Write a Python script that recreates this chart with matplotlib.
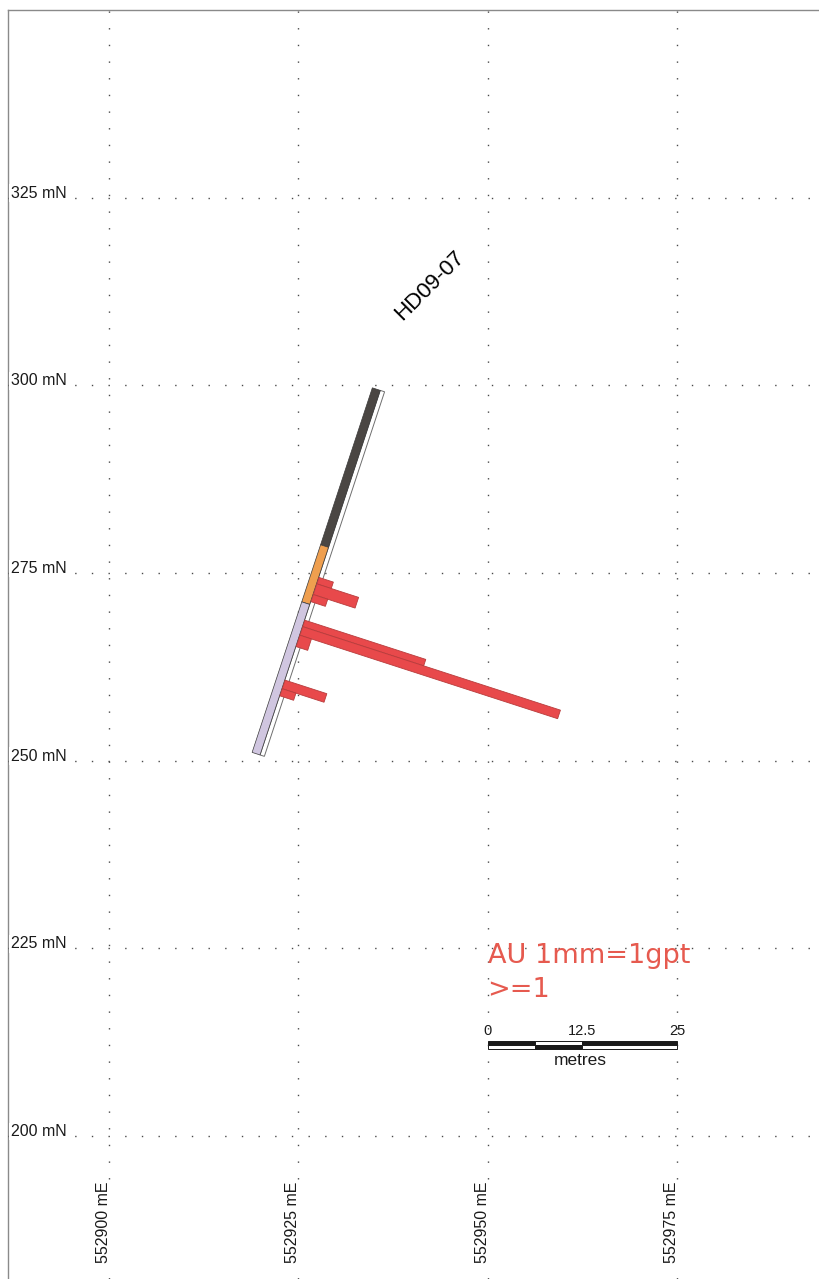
import numpy as np
import matplotlib
matplotlib.use("Agg")
import matplotlib.pyplot as plt
from matplotlib.patches import Polygon, Rectangle

plt.rcParams['font.family'] = ['Liberation Sans', 'DejaVu Sans']

# ---------------- data ----------------
east_ticks = [552900, 552925, 552950, 552975]
east_labels = ['552900 mE', '552925 mE', '552950 mE', '552975 mE']
north_ticks = [200, 225, 250, 275, 300, 325]
north_labels = ['200 mN', '225 mN', '250 mN', '275 mN', '300 mN', '325 mN']

hole_id = 'HD09-07'
collar_e = 552935.3
collar_n = 299.5
hole_azimuth = 198.1     # degrees from north
hole_length = 51.1       # metres (plan)

lith_from = [0.0, 22.0, 30.0]
lith_to = [22.0, 30.0, 51.1]
lith_colors = ['#4a4643', '#ef9f4f', '#d0c6e0']

au_from = [26.2, 27.1, 28.6, 32.2, 33.1, 34.3, 40.6, 41.8]
au_to = [27.1, 28.6, 29.6, 33.1, 34.3, 35.9, 41.8, 42.8]
au_gpt = [2.0, 5.8, 2.0, 16.8, 35.8, 1.6, 5.8, 1.9]

scale_ticks = [0, 12.5, 25]
scale_labels = ['0', '12.5', '25']
scale_breaks = [0, 6.25, 12.5, 25]
scale_top_colors = ['#1a1a1a', 'white', '#1a1a1a']
scale_bot_colors = ['white', '#1a1a1a', 'white']
legend_title = 'AU 1mm=1gpt'
legend_sub = '>=1'
scale_unit = 'metres'

# ---------------- figure ----------------
W, H = 820, 1279
fig = plt.figure(figsize=(W / 100, H / 100), dpi=100)
ax = fig.add_axes([0, 0, 1, 1])
ax.set_xlim(552885.61, 552993.89)
ax.set_ylim(180.94, 351.34)
ax.axis('off')

# frame lines (left and top)
fx = 8 / W
fy = 1 - 10 / H
ax.plot([fx, fx], [0, fy], transform=ax.transAxes, color='#8a8a8a', lw=1.0, zorder=1)
ax.plot([fx, 1], [fy, fy], transform=ax.transAxes, color='#8a8a8a', lw=1.0, zorder=1)

# dotted grid
dot = (0, (1, 11))
for e in east_ticks:
    ax.axvline(e, ymin=0, ymax=fy, color='#4a4a4a', lw=1.0, ls=dot, zorder=1)
for n in north_ticks:
    ax.axhline(n, xmin=fx, xmax=1, color='#4a4a4a', lw=1.0, ls=dot, zorder=1)

bb = dict(facecolor='white', edgecolor='none', pad=1.0)
for n, lab in zip(north_ticks, north_labels):
    ax.text(552887.0, n, lab, ha='left', va='baseline', fontsize=11.5,
            color='#1a1a1a', bbox=bb, zorder=2)
for e, lab in zip(east_ticks, east_labels):
    ax.text(e + 0.25, 188.5, lab, ha='right', va='center', rotation=90,
            fontsize=11.5, color='#1a1a1a', bbox=bb, zorder=2)

# ---------------- drill hole ----------------
az = np.radians(hole_azimuth)
u = np.array([np.sin(az), np.cos(az)])
p = np.array([-u[1], u[0]])
c = np.array([collar_e, collar_n])


def pt(s, w):
    return c + s * u + w * p


def strip(s0, s1, w0, w1):
    return [pt(s0, w0), pt(s1, w0), pt(s1, w1), pt(s0, w1)]


ax.add_patch(Polygon(strip(0, hole_length, 0.55, 1.15), closed=True,
                     facecolor='white', edgecolor='#6e6e6e', lw=0.7, zorder=3))
for f, t, col in zip(lith_from, lith_to, lith_colors):
    ax.add_patch(Polygon(strip(f, t, -0.55, 0.55), closed=True,
                         facecolor=col, edgecolor='#3a3a3a', lw=0.5, zorder=4))
for f, t, g in zip(au_from, au_to, au_gpt):
    ax.add_patch(Polygon(strip(f, t, 0.6, 0.6 + g), closed=True,
                         facecolor='#e8494b', edgecolor='#b83c3c', lw=0.6, zorder=5))

lab_pos = c + np.array([7.1, 13.8])
ax.text(lab_pos[0], lab_pos[1], hole_id, rotation=45, rotation_mode='anchor',
        ha='center', va='center', fontsize=16, color='black', zorder=6)

# ---------------- legend / scale bar ----------------
x0 = east_ticks[2]
ax.text(x0, 223.0, legend_title, ha='left', va='baseline', fontsize=19.5,
        color='#e65a4f', family=['DejaVu Sans'], zorder=6)
ax.text(x0, 218.5, legend_sub, ha='left', va='baseline', fontsize=19.5,
        color='#e65a4f', family=['DejaVu Sans'], zorder=6)

ymid, hh = 212.15, 0.55
for a, b, ct, cb in zip(scale_breaks[:-1], scale_breaks[1:], scale_top_colors, scale_bot_colors):
    ax.add_patch(Rectangle((x0 + a, ymid), b - a, hh, facecolor=ct,
                           edgecolor='#1a1a1a', lw=0.7, zorder=6))
    ax.add_patch(Rectangle((x0 + a, ymid - hh), b - a, hh, facecolor=cb,
                           edgecolor='#1a1a1a', lw=0.7, zorder=6))
for v, lab in zip(scale_ticks, scale_labels):
    ax.text(x0 + v, 213.45, lab, ha='center', va='baseline', fontsize=10.5,
            color='#1a1a1a', zorder=6)
ax.text(x0 + 12.3, 210.1, scale_unit, ha='center', va='center', fontsize=12.5,
        color='#1a1a1a', zorder=6)

fig.savefig('out.png', dpi=100)
